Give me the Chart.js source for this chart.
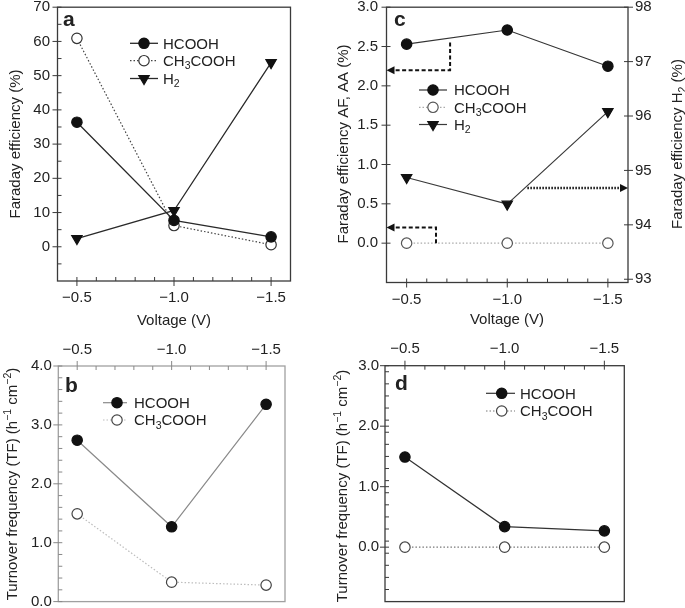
<!DOCTYPE html>
<html><head><meta charset="utf-8">
<script src="https://cdn.jsdelivr.net/npm/chart.js@4/dist/chart.umd.min.js"></script>
<style>
html,body{margin:0;padding:0;background:#fff;width:685px;height:608px;overflow:hidden}
canvas{position:absolute;left:0;top:0}
</style></head><body>
<canvas id="ca" width="685" height="608"></canvas>
<canvas id="cb" width="685" height="608"></canvas>
<canvas id="cc" width="685" height="608"></canvas>
<canvas id="cd" width="685" height="608"></canvas>
<script>
// ---------- data ----------
const voltages = [-0.5, -1.0, -1.5];
const xTickLabels = ['\u22120.5', '\u22121.0', '\u22121.5'];

// panel a : Faraday efficiency (%)
const feHCOOH_a   = [36.4, 7.7, 2.9];
const feCH3COOH_a = [60.9, 6.2, 0.6];
const feH2_a      = [2.4, 10.6, 53.8];
const feTicksA    = [0, 10, 20, 30, 40, 50, 60, 70];
const feLabelsA   = ['0', '10', '20', '30', '40', '50', '60', '70'];

// panel b : turnover frequency
const tfHCOOH_b   = [2.74, 1.27, 3.35];
const tfCH3COOH_b = [1.49, 0.33, 0.28];
const tfTicksB    = [0, 1, 2, 3, 4];
const tfLabelsB   = ['0.0', '1.0', '2.0', '3.0', '4.0'];

// panel c : Faraday efficiency AF, AA (left) and H2 (right)
const feHCOOH_c   = [2.53, 2.71, 2.25];
const feCH3COOH_c = [0, 0, 0];
const feH2_c      = [94.87, 94.38, 96.08];
const feTicksC    = [0, 0.5, 1.0, 1.5, 2.0, 2.5, 3.0];
const feLabelsC   = ['0.0', '0.5', '1.0', '1.5', '2.0', '2.5', '3.0'];
const feTicksC2   = [93, 94, 95, 96, 97, 98];
const feLabelsC2  = ['93', '94', '95', '96', '97', '98'];

// panel d : turnover frequency
const tfHCOOH_d   = [1.49, 0.34, 0.27];
const tfCH3COOH_d = [0, 0, 0];
const tfTicksD    = [0, 1, 2, 3];
const tfLabelsD   = ['0.0', '1.0', '2.0', '3.0'];

// guide arrows of panel c (data space: [voltage, left-axis value])
const arrowsC = [
  {dash: [4, 2.5], width: 2, pts: [[-0.716, 2.55], [-0.716, 2.2], [-0.4, 2.2]]},
  {dash: [4, 2.5], width: 2, pts: [[-0.646, 0.0], [-0.646, 0.2], [-0.4, 0.2]]},
  {dash: [1.5, 1.5], width: 2.5, pts: [[-1.1, 0.7], [-1.6, 0.7]]}
];

// ---------- styling / layout ----------
const W = 685, H = 608;
const FONT = "'Liberation Sans', Arial, Helvetica, sans-serif";
const FS = 15;
const TXT = '#222';
const xMin = -1.6, xMax = -0.4;

function fixBox(size, horiz) {
  return s => {
    if (horiz) s.height = size; else s.width = size;
    s.paddingLeft = 0; s.paddingRight = 0; s.paddingTop = 0; s.paddingBottom = 0;
  };
}

function segsChem(str) {
  const out = [];
  str.replace(/(\d+)|(\D+)/g, (m, d, t) => { out.push(d ? {t: d, sub: true} : {t: t}); return m; });
  return out;
}

function drawRich(ctx, segs, x, y, size, align) {
  ctx.save();
  ctx.textBaseline = 'alphabetic';
  ctx.textAlign = 'left';
  const small = size * 0.7;
  let total = 0;
  const widths = segs.map(s => {
    ctx.font = (s.sub || s.sup ? small : size) + 'px ' + FONT;
    const w = ctx.measureText(s.t).width; total += w; return w;
  });
  let cx = align === 'center' ? x - total / 2 : x;
  const base = y + size * 0.36;
  segs.forEach((s, i) => {
    ctx.font = (s.sub || s.sup ? small : size) + 'px ' + FONT;
    let yy = base;
    if (s.sub) yy = base + size * 0.22;
    if (s.sup) yy = base - size * 0.42;
    ctx.fillText(s.t, cx, yy);
    cx += widths[i];
  });
  ctx.restore();
}

function arrowHead(ctx, x, y, dx, dy) {
  const L = 8, Wd = 4;
  const px = -dy, py = dx;
  ctx.beginPath();
  ctx.moveTo(x, y);
  ctx.lineTo(x - dx * L + px * Wd, y - dy * L + py * Wd);
  ctx.lineTo(x - dx * L - px * Wd, y - dy * L - py * Wd);
  ctx.closePath();
  ctx.fill();
}

const deco = {
  id: 'deco',
  beforeDatasetsDraw(chart, args, o) {
    const ctx = chart.ctx, ca = chart.chartArea;
    ctx.save();
    ctx.strokeStyle = o.boxColor; ctx.lineWidth = 1.3;
    ctx.strokeRect(ca.left, ca.top, ca.right - ca.left, ca.bottom - ca.top);
    ctx.lineWidth = 1;
    ctx.strokeStyle = o.tickColor || o.boxColor;
    const xs = chart.scales.x;
    const yEdge = o.xPos === 'top' ? ca.top : ca.bottom;
    const out = o.xPos === 'top' ? -1 : 1;
    ctx.beginPath();
    for (let k = 5; k <= 15; k++) {
      const v = -k / 10;
      const px = xs.getPixelForValue(v);
      const major = (k % 5 === 0);
      ctx.moveTo(px, yEdge - out * 4);
      ctx.lineTo(px, major ? yEdge + out * 5 : yEdge);
    }
    const ys = chart.scales.y;
    const yMaj = o.yMajor, yMin = o.yMinorStep;
    if (yMin) {
      for (let v = ys.min; v <= ys.max + 1e-9; v += yMin) {
        const vv = Math.round(v * 1000) / 1000;
        if (yMaj.some(m => Math.abs(m - vv) < 1e-6)) continue;
        const py = ys.getPixelForValue(vv);
        if (py < ca.top + 1 || py > ca.bottom - 1) continue;
        ctx.moveTo(ca.left, py); ctx.lineTo(ca.left + 4, py);
      }
    }
    yMaj.forEach(v => {
      const py = ys.getPixelForValue(v);
      ctx.moveTo(ca.left - 5, py); ctx.lineTo(ca.left + 4, py);
    });
    if (chart.scales.y2) {
      const y2 = chart.scales.y2;
      o.y2Major.forEach(v => {
        const py = y2.getPixelForValue(v);
        ctx.moveTo(ca.right - 4, py); ctx.lineTo(ca.right + 5, py);
      });
    }
    ctx.stroke();
    ctx.restore();
  },
  afterDraw(chart, args, o) {
    const ctx = chart.ctx;
    ctx.save();
    ctx.fillStyle = TXT;
    ctx.font = 'bold 21px ' + FONT;
    ctx.textBaseline = 'alphabetic'; ctx.textAlign = 'left';
    ctx.fillText(o.letter.t, o.letter.x, o.letter.y);
    (o.titles || []).forEach(t => {
      ctx.save();
      ctx.translate(t.x, t.y);
      if (t.rot) ctx.rotate(t.rot);
      ctx.fillStyle = TXT;
      drawRich(ctx, t.segs, 0, 0, FS, 'center');
      ctx.restore();
    });
    const lg = o.legend;
    chart.data.datasets.forEach((ds, i) => {
      const y = lg.ys[i];
      ctx.save();
      ctx.strokeStyle = ds.borderColor; ctx.lineWidth = ds.borderWidth;
      ctx.setLineDash(ds.borderDash || []);
      ctx.beginPath(); ctx.moveTo(lg.x1, y); ctx.lineTo(lg.x2, y); ctx.stroke();
      ctx.setLineDash([]);
      ctx.fillStyle = ds.pointBackgroundColor; ctx.strokeStyle = ds.pointBorderColor;
      ctx.lineWidth = ds.pointBorderWidth;
      Chart.helpers.drawPoint(ctx, {pointStyle: ds.pointStyle, rotation: ds.pointRotation || 0,
        radius: ds.pointRadius, borderWidth: ds.pointBorderWidth}, lg.xm, y);
      ctx.restore();
      ctx.fillStyle = TXT;
      drawRich(ctx, segsChem(ds.label), lg.tx, y, FS, 'left');
    });
    (o.arrows || []).forEach(a => {
      const xs = chart.scales.x, ys = chart.scales.y;
      const pts = a.pts.map(p => [xs.getPixelForValue(p[0]), ys.getPixelForValue(p[1])]);
      const n = pts.length;
      const [tx, ty] = pts[n - 1], [sx, sy] = pts[n - 2];
      const len = Math.hypot(tx - sx, ty - sy);
      const dx = (tx - sx) / len, dy = (ty - sy) / len;
      ctx.save();
      ctx.strokeStyle = '#111'; ctx.fillStyle = '#111';
      ctx.lineWidth = a.width; ctx.setLineDash(a.dash);
      ctx.beginPath();
      ctx.moveTo(pts[0][0], pts[0][1]);
      for (let k = 1; k < n - 1; k++) ctx.lineTo(pts[k][0], pts[k][1]);
      ctx.lineTo(tx - dx * 7, ty - dy * 7);
      ctx.stroke();
      ctx.setLineDash([]);
      arrowHead(ctx, tx, ty, dx, dy);
      ctx.restore();
    });
    ctx.restore();
  }
};

function pts(xv, yv) { return xv.map((v, i) => ({x: v, y: yv[i]})); }

function ds(label, data, style) {
  return Object.assign({
    label: label, data: data, showLine: true, tension: 0,
    pointRadius: 5.2, pointHoverRadius: 5.2, pointBorderWidth: 1.2,
    pointStyle: 'circle', pointRotation: 0
  }, style);
}

function makeChart(id, p) {
  const a = p.area;
  const tickFont = {family: FONT, size: FS};
  const noGrid = {display: false, drawTicks: false, tickLength: 0};
  const scales = {
    x: {
      type: 'linear', position: p.xPos, reverse: true, min: xMin, max: xMax,
      afterBuildTicks: s => { s.ticks = voltages.map(v => ({value: v})); },
      ticks: {callback: (v, i) => xTickLabels[i], color: TXT, font: tickFont,
              padding: p.xPad, maxRotation: 0, minRotation: 0, autoSkip: false},
      grid: noGrid, border: {display: false},
      afterFit: fixBox(p.xPos === 'top' ? a.t : H - a.b, true)
    },
    y: {
      type: 'linear', position: 'left', min: p.y.min, max: p.y.max,
      afterBuildTicks: s => { s.ticks = p.y.ticks.map(v => ({value: v})); },
      ticks: {callback: (v, i) => p.y.labels[i], color: TXT, font: tickFont, padding: p.yPad},
      grid: noGrid, border: {display: false},
      afterFit: fixBox(a.l, false)
    }
  };
  if (p.y2) {
    scales.y2 = {
      type: 'linear', position: 'right', min: p.y2.min, max: p.y2.max,
      afterBuildTicks: s => { s.ticks = p.y2.ticks.map(v => ({value: v})); },
      ticks: {callback: (v, i) => p.y2.labels[i], color: TXT, font: tickFont, padding: p.y2Pad},
      grid: noGrid, border: {display: false},
      afterFit: fixBox(W - a.r, false)
    };
  }
  return new Chart(document.getElementById(id), {
    type: 'scatter',
    data: {datasets: p.datasets},
    options: {
      responsive: false, animation: false, devicePixelRatio: 1,
      layout: {padding: {left: 0, top: p.xPos === 'top' ? 0 : a.t,
                         right: p.y2 ? 0 : W - a.r, bottom: p.xPos === 'bottom' ? 0 : H - a.b}},
      scales: scales,
      plugins: {legend: {display: false}, tooltip: {enabled: false}, deco: p.deco}
    },
    plugins: [deco]
  });
}

const solidFill = (line, lw) => ({borderColor: line, borderWidth: lw, pointBackgroundColor: '#111', pointBorderColor: '#111'});
const dotOpen = (line, mk) => ({borderColor: line, borderWidth: 1.2, borderDash: [1.5, 2],
  pointBackgroundColor: '#fff', pointBorderColor: mk});
const triDown = {pointStyle: 'triangle', pointRotation: 180, pointRadius: 6};

// ---------- panel a ----------
makeChart('ca', {
  area: {l: 57.5, t: 7, r: 290.5, b: 281}, xPos: 'bottom', xPad: 8, yPad: 7.5,
  y: {min: -10, max: 70, ticks: feTicksA, labels: feLabelsA},
  datasets: [
    ds('HCOOH', pts(voltages, feHCOOH_a), solidFill('#2a2a2a', 1.3)),
    ds('CH3COOH', pts(voltages, feCH3COOH_a), dotOpen('#444', '#333')),
    ds('H2', pts(voltages, feH2_a), Object.assign(solidFill('#2a2a2a', 1.3), triDown))
  ],
  deco: {
    boxColor: '#3a3a3a', xPos: 'bottom', yMajor: feTicksA, yMinorStep: 5,
    letter: {t: 'a', x: 63, y: 26},
    titles: [
      {segs: [{t: 'Faraday efficiency (%)'}], x: 15, y: 144, rot: -Math.PI / 2},
      {segs: [{t: 'Voltage (V)'}], x: 174, y: 320}
    ],
    legend: {x1: 130, x2: 158, xm: 144, tx: 163, ys: [43.3, 60.7, 78.5]}
  }
});

// ---------- panel b ----------
makeChart('cb', {
  area: {l: 58.3, t: 366, r: 285, b: 602}, xPos: 'top', xPad: 7.5, yPad: 6.5,
  y: {min: 0, max: 4, ticks: tfTicksB, labels: tfLabelsB},
  datasets: [
    ds('HCOOH', pts(voltages, tfHCOOH_b), solidFill('#8a8a8a', 1.2)),
    ds('CH3COOH', pts(voltages, tfCH3COOH_b), dotOpen('#bdbdbd', '#444'))
  ],
  deco: {
    boxColor: '#a0a0a0', tickColor: '#888', xPos: 'top', yMajor: tfTicksB, yMinorStep: 0.2,
    letter: {t: 'b', x: 65, y: 392},
    titles: [
      {segs: [{t: 'Turnover frequency (TF) (h'}, {t: '\u22121', sup: true}, {t: ' cm'}, {t: '\u22122', sup: true}, {t: ')'}],
       x: 12, y: 484, rot: -Math.PI / 2}
    ],
    legend: {x1: 103, x2: 127, xm: 117, tx: 134, ys: [402.7, 420]}
  }
});

// ---------- panel c ----------
makeChart('cc', {
  area: {l: 386.5, t: 6.5, r: 628, b: 282.5}, xPos: 'bottom', xPad: 8, yPad: 8.5, y2Pad: 7,
  y: {min: -0.5, max: 3.0, ticks: feTicksC, labels: feLabelsC},
  y2: {min: 92.94, max: 98, ticks: feTicksC2, labels: feLabelsC2},
  datasets: [
    ds('HCOOH', pts(voltages, feHCOOH_c), solidFill('#333', 1.2)),
    ds('CH3COOH', pts(voltages, feCH3COOH_c), dotOpen('#aaa', '#555')),
    Object.assign(ds('H2', pts(voltages, feH2_c), Object.assign(solidFill('#3a3a3a', 1.2), triDown)), {yAxisID: 'y2'})
  ],
  deco: {
    boxColor: '#3a3a3a', xPos: 'bottom', yMajor: feTicksC, y2Major: feTicksC2, yMinorStep: 0,
    letter: {t: 'c', x: 394, y: 26},
    titles: [
      {segs: [{t: 'Faraday efficiency AF, AA (%)'}], x: 343, y: 144, rot: -Math.PI / 2},
      {segs: [{t: 'Faraday efficiency H'}, {t: '2', sub: true}, {t: ' (%)'}], x: 677, y: 144, rot: -Math.PI / 2},
      {segs: [{t: 'Voltage (V)'}], x: 507, y: 319}
    ],
    legend: {x1: 419, x2: 447, xm: 433, tx: 454, ys: [90, 107.3, 124.5]},
    arrows: arrowsC
  }
});

// ---------- panel d ----------
makeChart('cd', {
  area: {l: 385, t: 365.7, r: 624.3, b: 606}, xPos: 'top', xPad: 7.5, yPad: 6,
  y: {min: -0.9, max: 3.0, ticks: tfTicksD, labels: tfLabelsD},
  datasets: [
    ds('HCOOH', pts(voltages, tfHCOOH_d), solidFill('#333', 1.2)),
    ds('CH3COOH', pts(voltages, tfCH3COOH_d), dotOpen('#777', '#444'))
  ],
  deco: {
    boxColor: '#3a3a3a', xPos: 'top', yMajor: tfTicksD, yMinorStep: 0.2,
    letter: {t: 'd', x: 395, y: 390},
    titles: [
      {segs: [{t: 'Turnover frequency (TF) (h'}, {t: '\u22121', sup: true}, {t: ' cm'}, {t: '\u22122', sup: true}, {t: ')'}],
       x: 342, y: 486, rot: -Math.PI / 2}
    ],
    legend: {x1: 486, x2: 515, xm: 501.7, tx: 520, ys: [393.3, 411]}
  }
});
</script>
</body></html>
